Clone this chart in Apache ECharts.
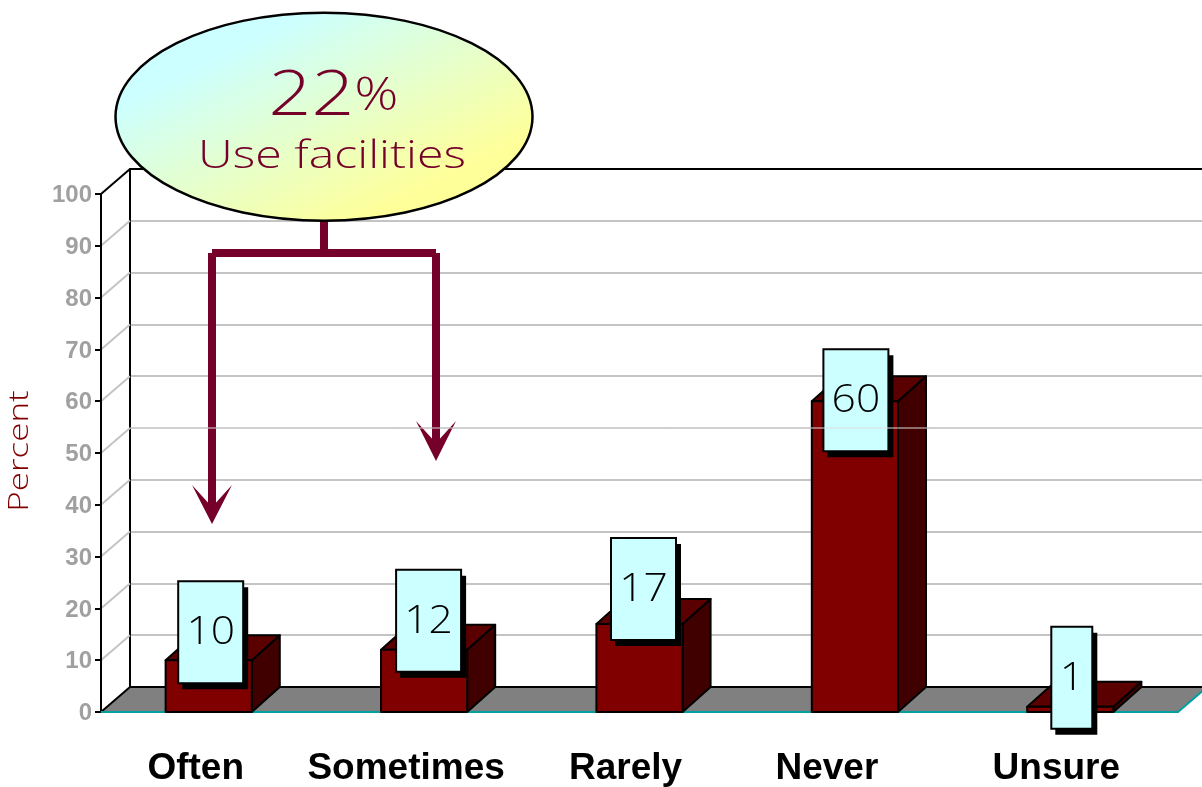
<!DOCTYPE html>
<html>
<head>
<meta charset="utf-8">
<style>html,body{margin:0;padding:0;background:#fff}#c{width:1202px;height:787px}</style>
<script src="https://cdn.jsdelivr.net/npm/echarts@6/dist/echarts.min.js"></script>
</head>
<body>
<div id="c"></div>
<script>
// ---- data ----
const categories = ['Often', 'Sometimes', 'Rarely', 'Never', 'Unsure'];
const percentValues = [10, 12, 17, 60, 1];
const yTicks = [0, 10, 20, 30, 40, 50, 60, 70, 80, 90, 100];
const axisTitle = 'Percent';
const calloutPercent = '22';
const calloutText = 'Use facilities';

// ---- layout (not data) ----
const DEPTH_X = 29, DEPTH_Y = -25;
const labelNudge = [26, 36, 28, 56, 28];   // right padding that shifts each category label left
const boxDx = [2, 4.5, 4, 1, 1.5];
const boxDy = [-28, -29, -35, -1, -29];
const boxW = [65, 65, 65, 65, 41];
const BOX_H = 102;
const THIN = '"Open Sans", sans-serif';
const MAROON = '#75002a';

const richCats = {};
categories.forEach((c, i) => {
  richCats['c' + i] = {
    fontSize: 37, fontWeight: 'bold', fontFamily: '"Liberation Sans", Arial, sans-serif',
    color: '#000',
    padding: [0, labelNudge[i], 0, 0]
  };
});

function renderFloor(params, api) {
  const v = api.value(0);
  const band = api.size([1, 0])[0];
  const c0 = api.coord([0, v]), c4 = api.coord([4, v]);
  const a = [c0[0] - band / 2, c0[1]];
  const right = [c4[0] + band / 2, c4[1]];
  const back = [a[0] + DEPTH_X, a[1] + DEPTH_Y];
  const children = [];
  if (v === 0) {
    children.push({
      type: 'polygon',
      shape: { points: [a, back, [right[0] + DEPTH_X, back[1]], right] },
      style: { fill: '#808080', stroke: null }
    });
    children.push({
      type: 'line',
      shape: { x1: right[0], y1: right[1], x2: right[0] + DEPTH_X, y2: back[1] },
      style: { stroke: '#00a0a0', lineWidth: 2 }
    });
  }
  const strong = v === 0 || v === 100;
  children.push({
    type: 'line',
    shape: { x1: a[0], y1: a[1], x2: back[0], y2: back[1] },
    style: { stroke: strong ? '#000' : '#c4c4c4', lineWidth: 2 }
  });
  if (strong) {
    children.push({
      type: 'line',
      shape: { x1: back[0], y1: back[1], x2: right[0] + DEPTH_X, y2: back[1] },
      style: { stroke: '#000', lineWidth: 2 }
    });
  }
  return { type: 'group', children };
}

function renderBar(params, api) {
  const i = api.value(0);
  const base = api.coord([i, 0]);
  const top = api.coord([i, api.value(1)]);
  const w = api.size([1, 0])[0] * 0.4;
  const l = base[0] - w / 2, r = base[0] + w / 2;
  const dx = DEPTH_X - 1, dy = DEPTH_Y;
  const edge = { stroke: '#000', lineWidth: 2, lineJoin: 'round' };
  return {
    type: 'group',
    children: [
      { type: 'polygon', shape: { points: [[r, top[1]], [r + dx, top[1] + dy], [r + dx, base[1] + dy], [r, base[1]]] },
        style: Object.assign({ fill: '#400000' }, edge) },
      { type: 'polygon', shape: { points: [[l, top[1]], [l + dx, top[1] + dy], [r + dx, top[1] + dy], [r, top[1]]] },
        style: Object.assign({ fill: '#5a0000' }, edge) },
      { type: 'rect', shape: { x: l, y: top[1], width: w, height: base[1] - top[1] },
        style: Object.assign({ fill: '#800000' }, edge) }
    ]
  };
}

function renderBox(params, api) {
  const i = api.value(0);
  const v = api.value(1);
  const p = api.coord([i, v]);
  const w = boxW[i];
  const cx = p[0] + boxDx[i], cy = p[1] + boxDy[i];
  const x = cx - w / 2, y = cy - BOX_H / 2;
  return {
    type: 'group',
    children: [
      { type: 'rect', shape: { x: x + 4, y: y + 6, width: w + 1, height: BOX_H }, style: { fill: '#000' } },
      { type: 'rect', shape: { x, y, width: w, height: BOX_H }, style: { fill: '#ccffff', stroke: '#000', lineWidth: 2 } },
      { type: 'text', x: cx, y: cy + 1, scaleX: 1.12, style: { text: String(v), font: '300 38px ' + THIN, fill: '#000', textAlign: 'center', textVerticalAlign: 'middle' } }
    ]
  };
}

function renderPaleLine(params, api) {
  const c = api.coord([0, api.value(0)]);
  const x0 = c[0] - api.size([1, 0])[0] / 2 + DEPTH_X;
  return { type: 'line', shape: { x1: x0, y1: c[1] + DEPTH_Y, x2: x0 + 1080, y2: c[1] + DEPTH_Y },
    style: { stroke: '#dcdcdc', lineWidth: 1 } };
}

const option = {
  backgroundColor: '#fff',
  animation: false,
  grid: [
    { left: 101, top: 194, width: 1077, height: 518 },
    { left: 130, top: 169, width: 1077, height: 518 }
  ],
  xAxis: [
    { type: 'category', gridIndex: 0, data: categories, z: 3,
      axisLine: { lineStyle: { color: '#00a0a0', width: 2 } },
      axisTick: { show: false },
      axisLabel: { margin: 38, interval: 0,
        formatter: (val, i) => '{c' + i + '|' + val + '}', rich: richCats } },
    { type: 'category', gridIndex: 1, data: categories, axisLine: { show: false }, axisTick: { show: false }, axisLabel: { show: false } }
  ],
  yAxis: [
    { type: 'value', gridIndex: 0, min: 0, max: 100, interval: 10, z: 3,
      axisLine: { show: true, lineStyle: { color: '#000', width: 2 } },
      axisTick: { show: true, length: 6, lineStyle: { color: '#000', width: 2 } },
      axisLabel: { margin: 9, verticalAlign: 'top', lineHeight: 3, color: '#a0a0a0', fontWeight: 'bold', fontSize: 24, fontFamily: '"Liberation Sans", Arial, sans-serif' },
      splitLine: { show: false } },
    { type: 'value', gridIndex: 1, min: 0, max: 100, interval: 10,
      axisLine: { show: true, lineStyle: { color: '#000', width: 2 } },
      axisTick: { show: false }, axisLabel: { show: false },
      splitLine: { show: true, lineStyle: { color: '#c4c4c4', width: 2 } } }
  ],
  series: [
    { type: 'custom', name: 'walls', xAxisIndex: 0, yAxisIndex: 0, z: 2, silent: true,
      data: yTicks.map(v => [v]), encode: { y: 0 }, renderItem: renderFloor },
    { type: 'custom', name: 'Percent', xAxisIndex: 0, yAxisIndex: 0, z: 4, silent: true,
      data: percentValues.map((v, i) => [i, v]), encode: { x: 0, y: 1 }, renderItem: renderBar },
    { type: 'custom', name: 'values', xAxisIndex: 0, yAxisIndex: 0, z: 5, silent: true,
      data: percentValues.map((v, i) => [i, v]), encode: { x: 0, y: 1 }, renderItem: renderBox },
    { type: 'custom', name: 'pale', xAxisIndex: 0, yAxisIndex: 0, z: 9, silent: true,
      data: [[50]], encode: { y: 0 }, renderItem: renderPaleLine }
  ],
  graphic: [
    { type: 'rect', z: 6, shape: { x: 320, y: 219, width: 8, height: 35 }, style: { fill: MAROON } },
    { type: 'rect', z: 6, shape: { x: 212, y: 249, width: 224, height: 8 }, style: { fill: MAROON } },
    { type: 'rect', z: 6, shape: { x: 208, y: 253, width: 8, height: 255 }, style: { fill: MAROON } },
    { type: 'rect', z: 6, shape: { x: 432, y: 253, width: 8, height: 191 }, style: { fill: MAROON } },
    { type: 'polygon', z: 6, shape: { points: [[192, 485], [212, 507], [232, 485], [212, 524]] }, style: { fill: MAROON } },
    { type: 'polygon', z: 6, shape: { points: [[416, 421], [436, 443], [456, 421], [436, 461]] }, style: { fill: MAROON } },
    { type: 'ellipse', z: 7, shape: { cx: 324, cy: 116.7, rx: 208.5, ry: 104 },
      style: { lineWidth: 2.5, stroke: '#000',
        fill: new echarts.graphic.LinearGradient(0.18, 0.275, 0.405, 1.18, [
          { offset: 0, color: '#ccffff' }, { offset: 1, color: '#ffff99' }]) } },
    { type: 'text', z: 8, x: 333.5, y: 97, scaleX: 1.19,
      style: { text: '{a|' + calloutPercent + '}{b|%}', textAlign: 'center', textVerticalAlign: 'middle',
        rich: { a: { fontFamily: THIN, fontWeight: 300, fontSize: 63, color: MAROON, fill: MAROON },
                b: { fontFamily: THIN, fontWeight: 300, fontSize: 46, color: MAROON, fill: MAROON } } } },
    { type: 'text', z: 8, x: 332, y: 157, scaleX: 1.27,
      style: { text: calloutText, font: '300 38px ' + THIN, fill: MAROON, textAlign: 'center', textVerticalAlign: 'middle' } },
    { type: 'text', z: 8, x: 20, y: 451, rotation: Math.PI / 2, scaleX: 1.25,
      style: { text: axisTitle, font: '300 28px ' + THIN, fill: '#800000', textAlign: 'center', textVerticalAlign: 'middle' } }
  ]
};
echarts.init(document.getElementById('c'), null, { renderer: 'canvas' }).setOption(option);
</script>
</body>
</html>
